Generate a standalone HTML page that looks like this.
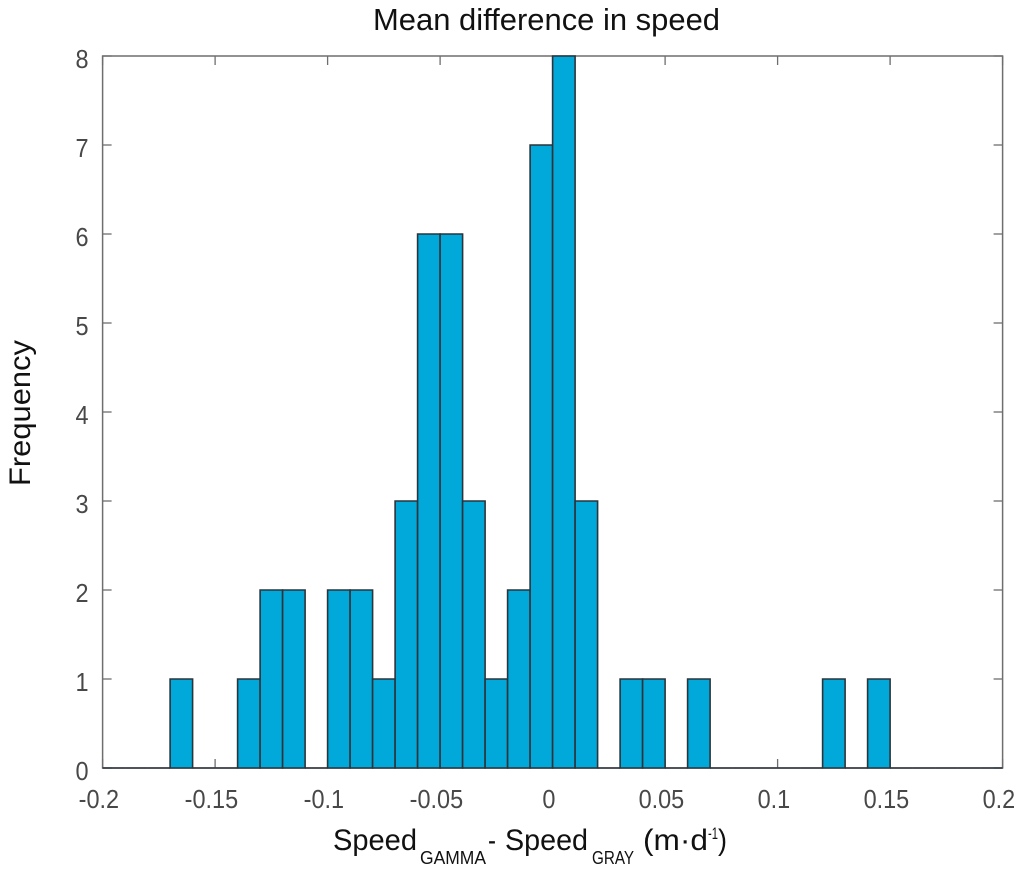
<!DOCTYPE html>
<html lang="en">
<head>
<meta charset="utf-8">
<title>Mean difference in speed</title>
<style>
html,body{margin:0;padding:0;background:#fff;}
svg{display:block;font-family:"Liberation Sans",sans-serif;}
</style>
</head>
<body>
<svg id="chart" width="1024" height="869" viewBox="0 0 1024 869" xmlns="http://www.w3.org/2000/svg">
  <text x="373" y="30" font-size="31" fill="#111" textLength="347" lengthAdjust="spacingAndGlyphs">Mean difference in speed</text>
  <g id="axes"></g>
  <g id="bars"></g>
  <g id="xticks"></g>
  <g id="yticks"></g>
  <text transform="translate(30,486) rotate(-90)" font-size="30" fill="#111" textLength="146" lengthAdjust="spacingAndGlyphs">Frequency</text>
  <g fill="#111">
    <text x="333" y="850" font-size="30" textLength="84" lengthAdjust="spacingAndGlyphs">Speed</text>
    <text x="420" y="864" font-size="18.5" textLength="66" lengthAdjust="spacingAndGlyphs">GAMMA</text>
    <text x="488" y="850" font-size="30" textLength="8" lengthAdjust="spacingAndGlyphs">-</text>
    <text x="505" y="850" font-size="30" textLength="83" lengthAdjust="spacingAndGlyphs">Speed</text>
    <text x="592" y="864" font-size="18.5" textLength="42" lengthAdjust="spacingAndGlyphs">GRAY</text>
    <text x="643" y="850" font-size="30" textLength="65" lengthAdjust="spacingAndGlyphs">(m·d</text>
    <text x="708" y="839" font-size="17" textLength="10" lengthAdjust="spacingAndGlyphs">-1</text>
    <text x="718" y="850" font-size="30" textLength="9" lengthAdjust="spacingAndGlyphs">)</text>
  </g>
</svg>
<script>
const binStarts = [-0.20,-0.19,-0.18,-0.17,-0.16,-0.15,-0.14,-0.13,-0.12,-0.11,-0.10,-0.09,-0.08,-0.07,-0.06,-0.05,-0.04,-0.03,-0.02,-0.01,0.00,0.01,0.02,0.03,0.04,0.05,0.06,0.07,0.08,0.09,0.10,0.11,0.12,0.13,0.14,0.15,0.16,0.17,0.18,0.19];
const frequencies = [0,0,0,1,0,0,1,2,2,0,2,2,1,3,6,6,3,1,2,7,8,3,0,1,1,0,1,0,0,0,0,0,1,0,1,0,0,0,0,0];
const binWidth = 0.01;
const xTickValues = [-0.2,-0.15,-0.1,-0.05,0,0.05,0.1,0.15,0.2];
const xTickLabels = ['-0.2','-0.15','-0.1','-0.05','0','0.05','0.1','0.15','0.2'];
const yTickValues = [0,1,2,3,4,5,6,7,8];
const yTickLabels = ['0','1','2','3','4','5','6','7','8'];

const NS = 'http://www.w3.org/2000/svg';
const plot = {left:102.6, right:1002.6, top:56, bottom:768};
const xDomain = [-0.2, 0.2];
const yDomain = [0, 8];
const labelFontSize = 25.5;
const labelSqueeze = 0.92;
function xScale(v){ return plot.left + (v - xDomain[0]) / (xDomain[1] - xDomain[0]) * (plot.right - plot.left); }
function yScale(v){ return plot.bottom - (v - yDomain[0]) / (yDomain[1] - yDomain[0]) * (plot.bottom - plot.top); }
function make(tag, attrs){
  const el = document.createElementNS(NS, tag);
  Object.keys(attrs).forEach(function(k){ el.setAttribute(k, attrs[k]); });
  return el;
}
function squeeze(t){
  const natural = t.getComputedTextLength();
  t.setAttribute('textLength', natural * labelSqueeze);
  t.setAttribute('lengthAdjust', 'spacingAndGlyphs');
}
const barsG = document.getElementById('bars');
const axesG = document.getElementById('axes');
const xG = document.getElementById('xticks');
const yG = document.getElementById('yticks');
const AXIS = '#6e6e6e';

binStarts.forEach(function(start, i){
  const x0 = xScale(start);
  const x1 = xScale(start + binWidth);
  const y = yScale(frequencies[i]);
  const d = 'M' + x0 + ' ' + plot.bottom + 'V' + y + 'H' + x1 + 'V' + plot.bottom + 'Z';
  const r = make('path', {d:d, fill:'#00a9da', stroke:'#2b343b', 'stroke-width':1.6});
  
  
  barsG.appendChild(r);
});

const frame = make('path', {d:'M'+plot.left+' '+plot.bottom+'V'+plot.top+'H'+plot.right+'V'+plot.bottom+'Z', fill:'none', stroke:AXIS, 'stroke-width':1.5});


axesG.appendChild(frame);

xTickValues.forEach(function(v, i){
  const x = xScale(v);
  const bottomTick = make('line', {x1:x, x2:x, y1:plot.bottom, y2:plot.bottom-9, stroke:AXIS, 'stroke-width':1.3});
  
  
  axesG.appendChild(bottomTick);
  const topTick = make('line', {x1:x, x2:x, y1:plot.top, y2:plot.top+9, stroke:AXIS, 'stroke-width':1.3});
  
  
  axesG.appendChild(topTick);
  const t = make('text', {x:x-3.7, y:808, 'font-size':labelFontSize, fill:'#484848', 'text-anchor':'middle'});
  
  
  t.textContent = xTickLabels[i];
  xG.appendChild(t);
  squeeze(t);
});

yTickValues.forEach(function(v, i){
  const y = yScale(v);
  const leftTick = make('line', {x1:plot.left, x2:plot.left+9, y1:y, y2:y, stroke:AXIS, 'stroke-width':1.3});
  
  
  axesG.appendChild(leftTick);
  const rightTick = make('line', {x1:plot.right, x2:plot.right-9, y1:y, y2:y, stroke:AXIS, 'stroke-width':1.3});
  
  
  axesG.appendChild(rightTick);
  const t = make('text', {x:88.5, y:y+12, 'font-size':labelFontSize, fill:'#484848', 'text-anchor':'end'});
  
  
  t.textContent = yTickLabels[i];
  yG.appendChild(t);
  squeeze(t);
});
</script>
</body>
</html>
